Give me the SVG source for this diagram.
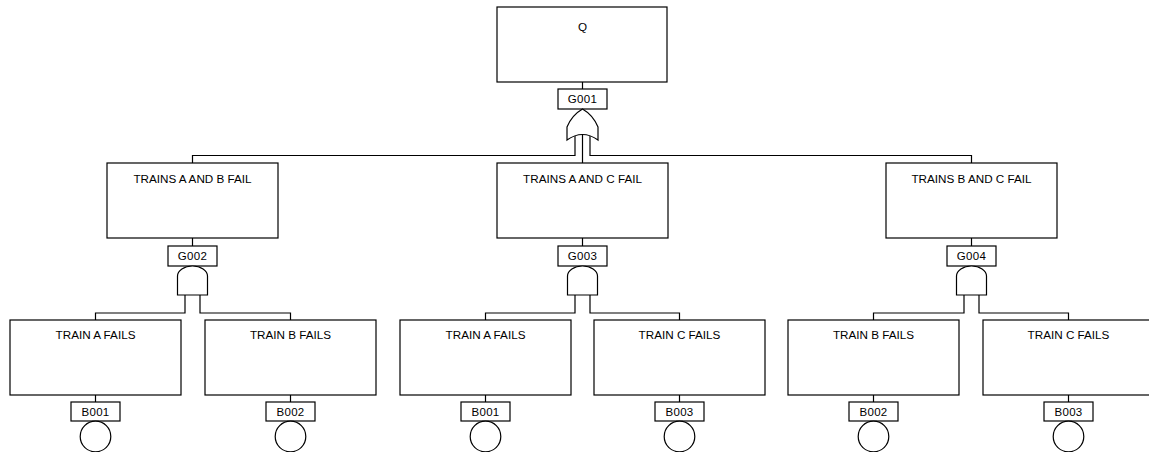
<svg xmlns="http://www.w3.org/2000/svg" width="1149" height="452" viewBox="0 0 1149 452">
<style>
.box{fill:#fff;stroke:#000;stroke-width:1.2}
.lbl{fill:#fff;stroke:#000;stroke-width:1.2}
.gate{fill:#fff;stroke:#000;stroke-width:1.2}
.ln{fill:none;stroke:#000;stroke-width:1.2}
.t{font-family:"Liberation Sans",Arial,sans-serif;font-size:11.7px;fill:#000;text-anchor:middle}
.lt{font-family:"Liberation Sans",Arial,sans-serif;font-size:11.5px;fill:#000;text-anchor:middle;letter-spacing:0.3px}
</style>
<g id="connectors">
<path class="ln" d="M582.5,82 V89"/>
<path class="ln" d="M575,136 V155.5 H192.5 V163"/>
<path class="ln" d="M582.5,134 V163"/>
<path class="ln" d="M590,136 V155.5 H971.5 V163"/>
<path class="ln" d="M192.5,238 V246"/>
<path class="ln" d="M582.5,238 V246"/>
<path class="ln" d="M971.5,238 V246"/>
<path class="ln" d="M185,295 V313 H95.5 V320"/>
<path class="ln" d="M200,295 V313 H290.5 V320"/>
<path class="ln" d="M575,295 V313 H485.5 V320"/>
<path class="ln" d="M590,295 V313 H679.5 V320"/>
<path class="ln" d="M964,295 V313 H873.5 V320"/>
<path class="ln" d="M979,295 V313 H1068.5 V320"/>
<path class="ln" d="M95.5,395 V402"/>
<path class="ln" d="M290.5,395 V402"/>
<path class="ln" d="M485.5,395 V402"/>
<path class="ln" d="M679.5,395 V402"/>
<path class="ln" d="M873.5,395 V402"/>
<path class="ln" d="M1068.5,395 V402"/>
</g>
<g id="Q">
<rect class="box" x="497" y="7" width="170" height="75"/>
<text class="t" x="582.5" y="31">Q</text>
<rect class="lbl" x="558" y="89" width="49" height="20"/>
<text class="lt" x="582.5" y="103">G001</text>
<path class="gate" d="M582.5,109 Q593,115 598,127 L598,140 Q582.5,129 567,140 L567,127 Q572,115 582.5,109 Z"/>
</g>
<g id="G002">
<rect class="box" x="107" y="163" width="171" height="75"/>
<text class="t" x="192.5" y="182.5">TRAINS A AND B FAIL</text>
<rect class="lbl" x="168" y="246" width="49" height="20"/>
<text class="lt" x="192.5" y="260">G002</text>
<path class="gate" d="M177.5,295 V276 A15 10 0 0 1 207.5,276 V295 Z"/>
</g>
<g id="G003">
<rect class="box" x="497" y="163" width="171" height="75"/>
<text class="t" x="582.5" y="182.5">TRAINS A AND C FAIL</text>
<rect class="lbl" x="558" y="246" width="49" height="20"/>
<text class="lt" x="582.5" y="260">G003</text>
<path class="gate" d="M567.5,295 V276 A15 10 0 0 1 597.5,276 V295 Z"/>
</g>
<g id="G004">
<rect class="box" x="886" y="163" width="171" height="75"/>
<text class="t" x="971.5" y="182.5">TRAINS B AND C FAIL</text>
<rect class="lbl" x="947" y="246" width="49" height="20"/>
<text class="lt" x="971.5" y="260">G004</text>
<path class="gate" d="M956.5,295 V276 A15 10 0 0 1 986.5,276 V295 Z"/>
</g>
<g id="B001a">
<rect class="box" x="10" y="320" width="171" height="75"/>
<text class="t" x="95.5" y="339">TRAIN A FAILS</text>
<rect class="lbl" x="71" y="402" width="49" height="19"/>
<text class="lt" x="95.5" y="415.5">B001</text>
<circle class="gate" cx="95.5" cy="436.5" r="15.3"/>
</g>
<g id="B002a">
<rect class="box" x="205" y="320" width="171" height="75"/>
<text class="t" x="290.5" y="339">TRAIN B FAILS</text>
<rect class="lbl" x="266" y="402" width="49" height="19"/>
<text class="lt" x="290.5" y="415.5">B002</text>
<circle class="gate" cx="290.5" cy="436.5" r="15.3"/>
</g>
<g id="B001b">
<rect class="box" x="400" y="320" width="171" height="75"/>
<text class="t" x="485.5" y="339">TRAIN A FAILS</text>
<rect class="lbl" x="461" y="402" width="49" height="19"/>
<text class="lt" x="485.5" y="415.5">B001</text>
<circle class="gate" cx="485.5" cy="436.5" r="15.3"/>
</g>
<g id="B003a">
<rect class="box" x="594" y="320" width="171" height="75"/>
<text class="t" x="679.5" y="339">TRAIN C FAILS</text>
<rect class="lbl" x="655" y="402" width="49" height="19"/>
<text class="lt" x="679.5" y="415.5">B003</text>
<circle class="gate" cx="679.5" cy="436.5" r="15.3"/>
</g>
<g id="B002b">
<rect class="box" x="788" y="320" width="171" height="75"/>
<text class="t" x="873.5" y="339">TRAIN B FAILS</text>
<rect class="lbl" x="849" y="402" width="49" height="19"/>
<text class="lt" x="873.5" y="415.5">B002</text>
<circle class="gate" cx="873.5" cy="436.5" r="15.3"/>
</g>
<g id="B003b">
<rect class="box" x="983" y="320" width="171" height="75"/>
<text class="t" x="1068.5" y="339">TRAIN C FAILS</text>
<rect class="lbl" x="1044" y="402" width="49" height="19"/>
<text class="lt" x="1068.5" y="415.5">B003</text>
<circle class="gate" cx="1068.5" cy="436.5" r="15.3"/>
</g>
</svg>
